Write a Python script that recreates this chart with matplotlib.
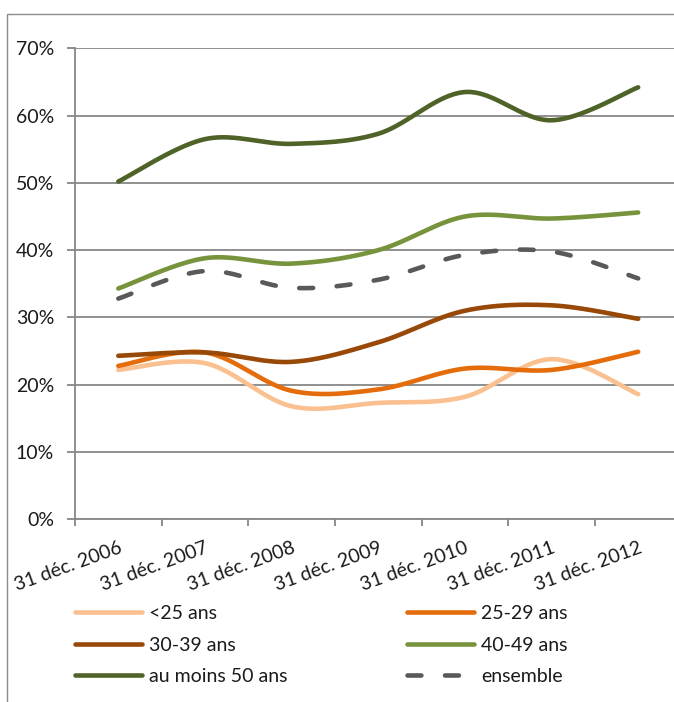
import numpy as np
import matplotlib
matplotlib.use("Agg")
import matplotlib.pyplot as plt
from matplotlib.patches import Rectangle
from matplotlib.ticker import FixedLocator, NullFormatter

plt.rcParams['font.family'] = ['Lato', 'DejaVu Sans']
plt.rcParams['lines.scale_dashes'] = False

dates = ['31 déc. 2006', '31 déc. 2007', '31 déc. 2008', '31 déc. 2009',
         '31 déc. 2010', '31 déc. 2011', '31 déc. 2012']

moins_25 = [22.2, 23.2, 16.8, 17.3, 18.2, 23.8, 18.6]
ans_25_29 = [22.8, 24.8, 19.1, 19.3, 22.4, 22.2, 24.9]
ans_30_39 = [24.3, 24.8, 23.4, 26.3, 31.0, 31.8, 29.8]
ans_40_49 = [34.3, 38.8, 38.0, 40.0, 45.0, 44.7, 45.6]
au_moins_50 = [50.2, 56.5, 55.8, 57.3, 63.5, 59.3, 64.2]
ensemble = [32.8, 36.9, 34.4, 35.6, 39.3, 39.8, 35.8]

series = [
    ('<25 ans', moins_25, '#FAC090', '-'),
    ('25-29 ans', ans_25_29, '#E46C0A', '-'),
    ('30-39 ans', ans_30_39, '#984807', '-'),
    ('40-49 ans', ans_40_49, '#77933C', '-'),
    ('au moins 50 ans', au_moins_50, '#4F6228', '-'),
    ('ensemble', ensemble, '#595959', '--'),
]


def smooth(y, n=40):
    # bezier smoothing through every point, like a spreadsheet "smoothed line"
    y = np.asarray(y, dtype=float)
    x = np.arange(len(y), dtype=float)
    P = np.column_stack([x, y])
    Pe = np.vstack([P[0], P, P[-1]])
    t = np.linspace(0, 1, n)[:, None]
    out = []
    for i in range(len(P) - 1):
        p0, p1 = P[i], P[i + 1]
        c1 = p0 + (Pe[i + 2] - Pe[i]) / 6
        c2 = p1 - (Pe[i + 3] - Pe[i + 1]) / 6
        seg = ((1 - t) ** 3 * p0 + 3 * (1 - t) ** 2 * t * c1
               + 3 * (1 - t) * t ** 2 * c2 + t ** 3 * p1)
        out.append(seg if i == 0 else seg[1:])
    out = np.vstack(out)
    return out[:, 0], out[:, 1]


W, H = 674, 702
fig = plt.figure(figsize=(W / 100, H / 100), dpi=100)

# outer chart frame
fig.patches.append(Rectangle((7 / W, -0.1), 1.2, (H - 14) / H + 0.1,
                             transform=fig.transFigure, fill=False,
                             edgecolor='#8c8c8c', linewidth=1.0))

ax = fig.add_axes([75 / W, (H - 519.3) / H, 606.5 / W, 471 / H])
grid_c = '#878787'
text_c = '#1a1a1a'
fs = 14

handles = {}
for name, vals, col, ls in series:
    xs, ys = smooth(vals)
    line, = ax.plot(xs, ys, color=col, lw=3.3, solid_capstyle='round',
                    dash_capstyle='round', label=name)
    if ls == '--':
        line.set_dashes((10, 17))
    handles[name] = line

ax.set_xlim(-0.5, len(dates) - 0.5)
ax.set_ylim(0, 70)
ax.set_yticks(np.arange(0, 71, 10))
ax.set_yticklabels([f'{v}%' for v in range(0, 71, 10)])
ax.grid(axis='y', color=grid_c, lw=1.3)
ax.set_axisbelow(True)

ax.xaxis.set_major_locator(FixedLocator(np.arange(-0.5, len(dates), 1.0)))
ax.xaxis.set_major_formatter(NullFormatter())
ax.xaxis.set_minor_locator(FixedLocator(np.arange(len(dates))))
ax.set_xticklabels(dates, minor=True, rotation=20, ha='right',
                   rotation_mode='anchor', va='top')
ax.tick_params(axis='x', which='major', length=5, width=1.3, color=grid_c)
ax.tick_params(axis='x', which='minor', length=0, pad=14,
               labelsize=fs, labelcolor=text_c)
ax.tick_params(axis='y', length=6, width=1.3, color=grid_c, pad=9,
               labelsize=fs, labelcolor=text_c)

for s in ['top', 'right']:
    ax.spines[s].set_visible(False)
for s in ['left', 'bottom']:
    ax.spines[s].set_color(grid_c)
    ax.spines[s].set_linewidth(1.3)

order = ['<25 ans', '30-39 ans', 'au moins 50 ans',
         '25-29 ans', '40-49 ans', 'ensemble']
leg = fig.legend([handles[k] for k in order], order, ncol=2,
                 loc='upper left', bbox_to_anchor=(75 / W, 1 - 605 / H),
                 frameon=False, fontsize=fs, handlelength=3.45,
                 handletextpad=0.35, columnspacing=6.15, labelspacing=0.75,
                 borderpad=0, borderaxespad=0)
for t in leg.get_texts():
    t.set_color(text_c)

fig.savefig('out.png', dpi=100)
